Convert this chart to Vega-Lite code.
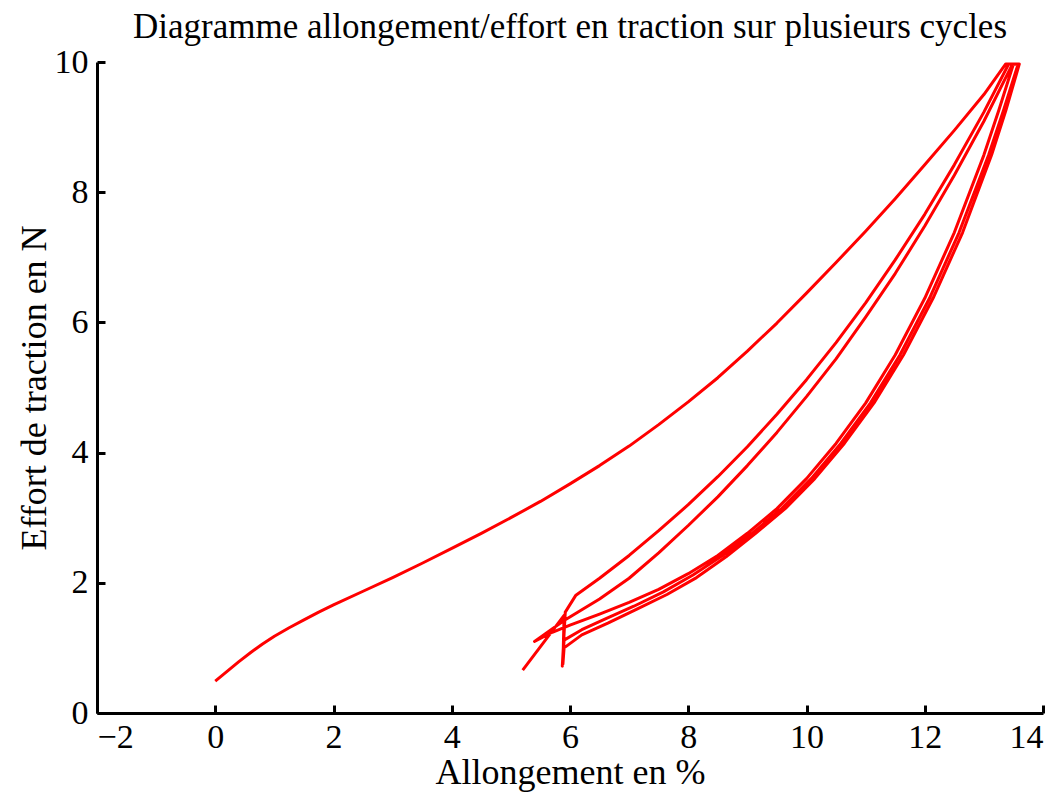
{
  "$schema": "https://vega.github.io/schema/vega-lite/v6.json",
  "width": 946,
  "height": 651,
  "autosize": {"type": "none"},
  "padding": {"left": 97, "top": 62, "right": 19, "bottom": 81},
  "background": "white",
  "title": {"text": "Diagramme allongement/effort en traction sur plusieurs cycles", "font": "Liberation Serif", "fontSize": 35, "fontWeight": "normal", "color": "black", "offset": 0, "anchor": "middle"},
  "config": {
    "view": {"stroke": null},
    "axis": {"font": "Liberation Serif", "labelFont": "Liberation Serif", "titleFont": "Liberation Serif", "labelFontSize": 34, "titleFontSize": 36, "titleFontWeight": "normal", "labelColor": "black", "titleColor": "black", "domainColor": "black", "domainWidth": 3, "tickColor": "black", "tickWidth": 3, "tickSize": -8, "grid": false}
  },
  "data": {"values": [
    {"i":0,"x":0,"y":0.49},{"i":1,"x":0.2,"y":0.64},{"i":2,"x":0.4,"y":0.79},{"i":3,"x":0.6,"y":0.93},{"i":4,"x":0.8,"y":1.06},{"i":5,"x":1.0,"y":1.18},{"i":6,"x":1.25,"y":1.31},{"i":7,"x":1.5,"y":1.43},{"i":8,"x":1.75,"y":1.55},{"i":9,"x":2,"y":1.66},{"i":10,"x":2.5,"y":1.87},{"i":11,"x":3,"y":2.08},{"i":12,"x":3.5,"y":2.3},{"i":13,"x":4,"y":2.53},{"i":14,"x":4.5,"y":2.76},{"i":15,"x":5,"y":3.0},{"i":16,"x":5.5,"y":3.25},{"i":17,"x":6,"y":3.52},{"i":18,"x":6.5,"y":3.8},{"i":19,"x":7,"y":4.1},{"i":20,"x":7.5,"y":4.43},{"i":21,"x":8,"y":4.78},{"i":22,"x":8.5,"y":5.15},{"i":23,"x":9,"y":5.56},{"i":24,"x":9.5,"y":5.99},{"i":25,"x":10,"y":6.45},{"i":26,"x":10.5,"y":6.92},{"i":27,"x":11,"y":7.4},{"i":28,"x":11.5,"y":7.9},{"i":29,"x":12,"y":8.42},{"i":30,"x":12.5,"y":8.95},{"i":31,"x":13,"y":9.5},{"i":32,"x":13.37,"y":9.97},
    {"i":33,"x":13.5,"y":9.97},{"i":34,"x":13.25,"y":9.25},{"i":35,"x":13,"y":8.57},{"i":36,"x":12.5,"y":7.38},{"i":37,"x":12,"y":6.37},{"i":38,"x":11.5,"y":5.5},{"i":39,"x":11,"y":4.76},{"i":40,"x":10.5,"y":4.14},{"i":41,"x":10,"y":3.6},{"i":42,"x":9.5,"y":3.14},{"i":43,"x":9,"y":2.76},{"i":44,"x":8.5,"y":2.42},{"i":45,"x":8,"y":2.14},{"i":46,"x":7.5,"y":1.9},{"i":47,"x":7,"y":1.7},{"i":48,"x":6.5,"y":1.52},{"i":49,"x":6,"y":1.35},{"i":50,"x":5.7,"y":1.24},{"i":51,"x":5.4,"y":1.1},
    {"i":52,"x":5.9,"y":1.42},{"i":53,"x":6.5,"y":1.75},{"i":54,"x":7,"y":2.07},{"i":55,"x":7.5,"y":2.46},{"i":56,"x":8,"y":2.88},{"i":57,"x":8.5,"y":3.32},{"i":58,"x":9,"y":3.8},{"i":59,"x":9.5,"y":4.31},{"i":60,"x":10,"y":4.86},{"i":61,"x":10.5,"y":5.44},{"i":62,"x":11,"y":6.08},{"i":63,"x":11.5,"y":6.75},{"i":64,"x":12,"y":7.48},{"i":65,"x":12.5,"y":8.26},{"i":66,"x":13,"y":9.09},{"i":67,"x":13.48,"y":9.96},
    {"i":68,"x":13.58,"y":9.97},{"i":69,"x":13.33,"y":9.25},{"i":70,"x":13.08,"y":8.57},{"i":71,"x":12.58,"y":7.38},{"i":72,"x":12.08,"y":6.37},{"i":73,"x":11.58,"y":5.5},{"i":74,"x":11.08,"y":4.76},{"i":75,"x":10.58,"y":4.14},{"i":76,"x":10.08,"y":3.6},{"i":77,"x":9.58,"y":3.14},{"i":78,"x":9.08,"y":2.76},{"i":79,"x":8.58,"y":2.42},{"i":80,"x":8.08,"y":2.12},{"i":81,"x":7.58,"y":1.86},{"i":82,"x":7.08,"y":1.64},{"i":83,"x":6.58,"y":1.44},{"i":84,"x":6.2,"y":1.28},{"i":85,"x":5.9,"y":1.12},{"i":86,"x":5.87,"y":0.72},{"i":87,"x":5.92,"y":1.55},
    {"i":88,"x":6.1,"y":1.81},{"i":89,"x":6.5,"y":2.07},{"i":90,"x":7,"y":2.42},{"i":91,"x":7.5,"y":2.8},{"i":92,"x":8,"y":3.2},{"i":93,"x":8.5,"y":3.63},{"i":94,"x":9,"y":4.09},{"i":95,"x":9.5,"y":4.59},{"i":96,"x":10,"y":5.12},{"i":97,"x":10.5,"y":5.69},{"i":98,"x":11,"y":6.3},{"i":99,"x":11.5,"y":6.96},{"i":100,"x":12,"y":7.66},{"i":101,"x":12.5,"y":8.42},{"i":102,"x":13,"y":9.23},{"i":103,"x":13.42,"y":9.97},
    {"i":104,"x":13.6,"y":9.97},{"i":105,"x":13.37,"y":9.25},{"i":106,"x":13.13,"y":8.57},{"i":107,"x":12.64,"y":7.38},{"i":108,"x":12.14,"y":6.37},{"i":109,"x":11.64,"y":5.5},{"i":110,"x":11.14,"y":4.76},{"i":111,"x":10.64,"y":4.14},{"i":112,"x":10.14,"y":3.6},{"i":113,"x":9.64,"y":3.14},{"i":114,"x":9.14,"y":2.76},{"i":115,"x":8.64,"y":2.4},{"i":116,"x":8.14,"y":2.08},{"i":117,"x":7.64,"y":1.82},{"i":118,"x":7.14,"y":1.6},{"i":119,"x":6.64,"y":1.38},{"i":120,"x":6.2,"y":1.2},{"i":121,"x":5.9,"y":1.0},{"i":122,"x":5.88,"y":0.75},{"i":123,"x":5.9,"y":1.5},{"i":124,"x":5.2,"y":0.66}
  ]},
  "mark": {"type": "line", "color": "#ff0000", "strokeWidth": 3, "strokeJoin": "round", "clip": true},
  "encoding": {
    "x": {"field": "x", "type": "quantitative", "scale": {"domain": [-2, 14], "nice": false, "zero": false}, "axis": {"title": "Allongement en %", "values": [-2,0,2,4,6,8,10,12,14], "labelPadding": 15, "titlePadding": 1}},
    "y": {"field": "y", "type": "quantitative", "scale": {"domain": [0, 10], "nice": false}, "axis": {"title": "Effort de traction en N", "values": [0,2,4,6,8,10], "labelPadding": 17, "titlePadding": 1}},
    "order": {"field": "i", "type": "quantitative"}
  }
}
